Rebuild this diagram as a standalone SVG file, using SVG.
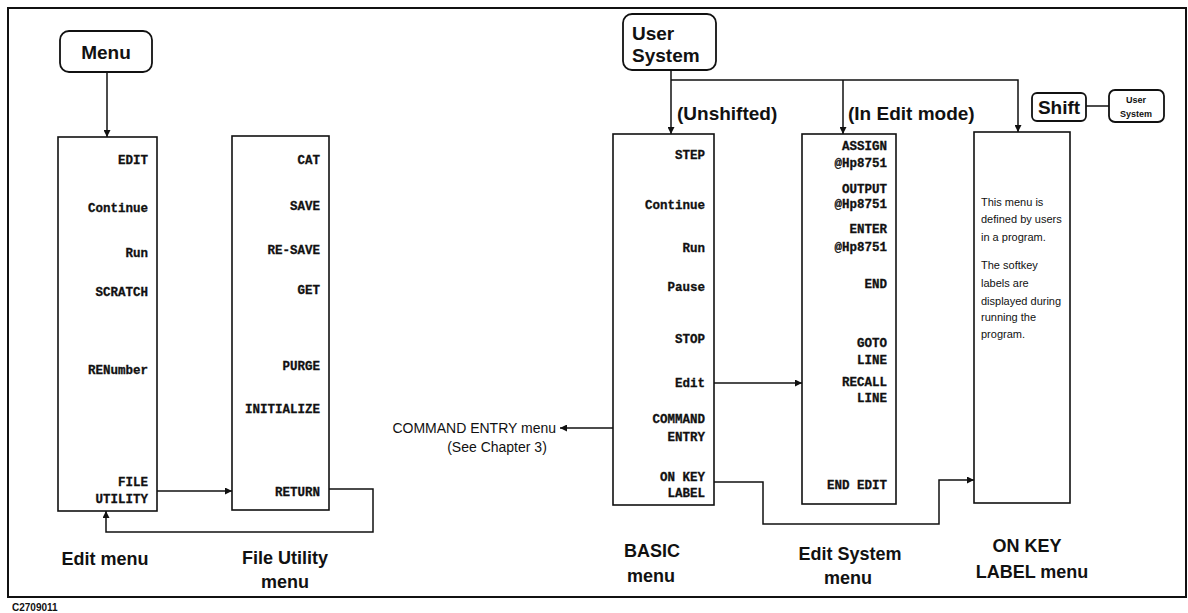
<svg xmlns="http://www.w3.org/2000/svg" width="1188" height="613" viewBox="0 0 1188 613">
<style>
.frame{fill:none;stroke:#111;stroke-width:2}
.box{fill:#fff;stroke:#111;stroke-width:1.6}
.rbox{fill:#fff;stroke:#111;stroke-width:1.8}
.ln{fill:none;stroke:#111;stroke-width:1.5}
.key{font-family:"Liberation Mono",monospace;font-weight:bold;font-size:12.5px;fill:#111;stroke:#111;stroke-width:0.3;text-anchor:end}
.title{font-family:"Liberation Sans",Arial,sans-serif;font-weight:bold;font-size:18px;fill:#111;text-anchor:middle}
.head{font-family:"Liberation Sans",Arial,sans-serif;font-weight:bold;font-size:19px;fill:#111}
.note{font-family:"Liberation Sans",Arial,sans-serif;font-size:11px;fill:#111}
.cmd{font-family:"Liberation Sans",Arial,sans-serif;font-size:14px;fill:#111}
</style>
<defs>
<marker id="ah" viewBox="0 0 10 10" refX="10" refY="5" markerWidth="7" markerHeight="7" markerUnits="userSpaceOnUse" orient="auto">
<path d="M0,0 L10,5 L0,10 z" fill="#111"/>
</marker>
</defs>
<rect width="1188" height="613" fill="#fff"/>
<rect class="frame" x="8" y="8" width="1178" height="589"/>
<text x="12" y="611" font-family="Liberation Sans,Arial,sans-serif" font-size="10px" font-weight="bold" fill="#111">C2709011</text>

<g id="connectors">
<line class="ln" x1="107" y1="72" x2="107" y2="137" marker-end="url(#ah)"/>
<line class="ln" x1="157" y1="491" x2="232" y2="491" marker-end="url(#ah)"/>
<polyline class="ln" points="329,489 373,489 373,532 106,532 106,511" marker-end="url(#ah)"/>
<line class="ln" x1="671" y1="70" x2="671" y2="134" marker-end="url(#ah)"/>
<polyline class="ln" points="671,80 1018,80 1018,132" marker-end="url(#ah)"/>
<line class="ln" x1="843" y1="80" x2="843" y2="134" marker-end="url(#ah)"/>
<line class="ln" x1="613" y1="428" x2="560" y2="428" marker-end="url(#ah)"/>
<line class="ln" x1="714" y1="383" x2="802" y2="383" marker-end="url(#ah)"/>
<polyline class="ln" points="714,482 763,482 763,524 939,524 939,480 974,480" marker-end="url(#ah)"/>
<line class="ln" x1="1086" y1="106" x2="1109" y2="106"/>
</g>

<g id="menu-key">
<rect class="rbox" x="60" y="31" width="92" height="41" rx="9"/>
<text class="head" x="106" y="59" text-anchor="middle" font-size="18px">Menu</text>
</g>

<g id="edit-menu">
<rect class="box" x="58" y="137" width="99" height="374"/>
<text class="key" x="148" y="164">EDIT</text>
<text class="key" x="148" y="212">Continue</text>
<text class="key" x="148" y="257">Run</text>
<text class="key" x="148" y="296">SCRATCH</text>
<text class="key" x="148" y="374">RENumber</text>
<text class="key" x="148" y="486">FILE</text>
<text class="key" x="148" y="503">UTILITY</text>
<text class="title" x="105" y="565">Edit menu</text>
</g>

<g id="file-utility-menu">
<rect class="box" x="232" y="136" width="97" height="374"/>
<text class="key" x="320" y="164">CAT</text>
<text class="key" x="320" y="210">SAVE</text>
<text class="key" x="320" y="254">RE-SAVE</text>
<text class="key" x="320" y="294">GET</text>
<text class="key" x="320" y="370">PURGE</text>
<text class="key" x="320" y="413">INITIALIZE</text>
<text class="key" x="320" y="496">RETURN</text>
<text class="title" x="285" y="564">File Utility</text>
<text class="title" x="285" y="588">menu</text>
</g>

<g id="user-system-key">
<rect class="rbox" x="623" y="14" width="93" height="56" rx="9"/>
<text class="head" x="632" y="40">User</text>
<text class="head" x="632" y="62">System</text>
</g>

<g id="labels">
<text class="head" x="677" y="120">(Unshifted)</text>
<text class="head" x="848" y="120">(In Edit mode)</text>
</g>

<g id="shift-key">
<rect class="rbox" x="1032" y="93" width="54" height="28" rx="5"/>
<text class="head" x="1059" y="114" text-anchor="middle" font-size="18px">Shift</text>
</g>

<g id="user-system-small">
<rect class="rbox" x="1109" y="90" width="55" height="32" rx="6"/>
<text x="1136" y="103" text-anchor="middle" font-family="Liberation Sans,Arial,sans-serif" font-weight="bold" font-size="9px" fill="#111">User</text>
<text x="1136" y="117" text-anchor="middle" font-family="Liberation Sans,Arial,sans-serif" font-weight="bold" font-size="9px" fill="#111">System</text>
</g>

<g id="command-entry">
<text class="cmd" x="556" y="433" text-anchor="end">COMMAND ENTRY menu</text>
<text class="cmd" x="497" y="452" text-anchor="middle">(See Chapter 3)</text>
</g>

<g id="basic-menu">
<rect class="box" x="613" y="134" width="101" height="371"/>
<text class="key" x="705" y="159">STEP</text>
<text class="key" x="705" y="209">Continue</text>
<text class="key" x="705" y="252">Run</text>
<text class="key" x="705" y="291">Pause</text>
<text class="key" x="705" y="343">STOP</text>
<text class="key" x="705" y="387">Edit</text>
<text class="key" x="705" y="423">COMMAND</text>
<text class="key" x="705" y="441">ENTRY</text>
<text class="key" x="705" y="481">ON KEY</text>
<text class="key" x="705" y="497">LABEL</text>
<text class="title" x="652" y="557">BASIC</text>
<text class="title" x="651" y="582">menu</text>
</g>

<g id="edit-system-menu">
<rect class="box" x="802" y="134" width="94" height="370"/>
<text class="key" x="887" y="150">ASSIGN</text>
<text class="key" x="887" y="167">@Hp8751</text>
<text class="key" x="887" y="193">OUTPUT</text>
<text class="key" x="887" y="208">@Hp8751</text>
<text class="key" x="887" y="233">ENTER</text>
<text class="key" x="887" y="251">@Hp8751</text>
<text class="key" x="887" y="288">END</text>
<text class="key" x="887" y="347">GOTO</text>
<text class="key" x="887" y="364">LINE</text>
<text class="key" x="887" y="386">RECALL</text>
<text class="key" x="887" y="402">LINE</text>
<text class="key" x="887" y="489">END EDIT</text>
<text class="title" x="850" y="560">Edit System</text>
<text class="title" x="848" y="584">menu</text>
</g>

<g id="on-key-label-menu">
<rect class="box" x="974" y="132" width="96" height="371"/>
<text class="note" x="981" y="206">This menu is</text>
<text class="note" x="981" y="223">defined by users</text>
<text class="note" x="981" y="241">in a program.</text>
<text class="note" x="981" y="269">The softkey</text>
<text class="note" x="981" y="287">labels are</text>
<text class="note" x="981" y="305">displayed during</text>
<text class="note" x="981" y="321">running the</text>
<text class="note" x="981" y="338">program.</text>
<text class="title" x="1027" y="552">ON KEY</text>
<text class="title" x="1032" y="578">LABEL menu</text>
</g>
</svg>
